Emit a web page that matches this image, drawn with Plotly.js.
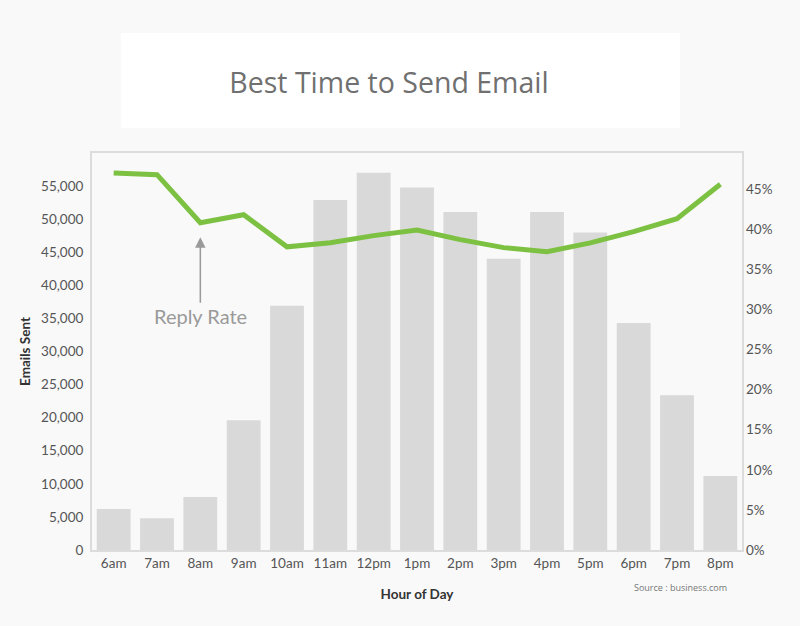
<!DOCTYPE html>
<html>
<head>
<meta charset="utf-8">
<script src="https://cdn.plot.ly/plotly-3.0.1.min.js"></script>
<style>
  html, body { margin: 0; padding: 0; background: #f9f9f9; }
  #chart { width: 800px; height: 626px; }
</style>
</head>
<body>
<div id="chart"></div>
<script>
const hours = ["6am","7am","8am","9am","10am","11am","12pm","1pm","2pm","3pm","4pm","5pm","6pm","7pm","8pm"];
const emailsSent = [6200, 4800, 8000, 19600, 36900, 52900, 57000, 54800, 51100, 44000, 51100, 48000, 34300, 23400, 11200];
const replyRate = [47.0, 46.8, 40.8, 41.8, 37.8, 38.3, 39.2, 39.9, 38.7, 37.7, 37.2, 38.3, 39.7, 41.3, 45.6];
const leftTicks = [0, 5000, 10000, 15000, 20000, 25000, 30000, 35000, 40000, 45000, 50000, 55000];
const leftTickText = ["0","5,000","10,000","15,000","20,000","25,000","30,000","35,000","40,000","45,000","50,000","55,000"];
const rightTicks = [0, 5, 10, 15, 20, 25, 30, 35, 40, 45];
const rightTickText = ["0%","5%","10%","15%","20%","25%","30%","35%","40%","45%"];

const tickFont = {family: "Lato, 'Open Sans', sans-serif", size: 13.5, color: "#555555"};

const traces = [
  {
    type: "bar",
    x: hours,
    y: emailsSent,
    marker: {color: "#d9d9d9"},
    hoverinfo: "x+y",
    showlegend: false
  },
  {
    type: "scatter",
    mode: "lines",
    x: hours,
    y: replyRate,
    yaxis: "y2",
    line: {color: "#7dc142", width: 5},
    showlegend: false
  }
];

const layout = {
  width: 800,
  height: 626,
  paper_bgcolor: "#f9f9f9",
  plot_bgcolor: "#f9f9f9",
  margin: {l: 92, r: 58, t: 153, b: 76},
  bargap: 0.22,
  showlegend: false,
  title: {
    text: "Best Time to Send Email",
    font: {family: "'Open Sans', sans-serif", size: 28.5, color: "#707070"},
    x: 0.457, xref: "paper", xanchor: "center",
    y: 0.868, yref: "container", yanchor: "middle"
  },
  xaxis: {
    showline: true, linecolor: "#dcdcdc", linewidth: 2, mirror: true,
    showgrid: false, zeroline: false, ticks: "",
    tickfont: tickFont,
    title: {text: "Hour of Day", font: {family: "Lato, sans-serif", size: 13.5, color: "#333333", weight: "bold"}, standoff: 19}
  },
  yaxis: {
    range: [0, 60000],
    tickvals: leftTicks,
    ticktext: leftTickText,
    showline: true, linecolor: "#dcdcdc", linewidth: 2, mirror: true,
    showgrid: false, zeroline: false, ticks: "",
    ticklabelstandoff: 4,
    tickfont: tickFont,
    title: {text: "Emails Sent", font: {family: "Lato, sans-serif", size: 13.5, color: "#333333", weight: "bold"}, standoff: 7}
  },
  yaxis2: {
    overlaying: "y",
    side: "right",
    range: [0, 49.5],
    tickvals: rightTicks,
    ticktext: rightTickText,
    showline: false, showgrid: false, zeroline: false, ticks: "",
    ticklabelstandoff: 3,
    tickfont: tickFont
  },
  shapes: [
    {
      type: "rect", xref: "paper", yref: "paper",
      x0: 0.0446, x1: 0.9046, y0: 1.063, y1: 1.302,
      fillcolor: "#ffffff", line: {width: 0}, layer: "below"
    }
  ],
  annotations: [
    {
      x: "8am", y: 39.0, xref: "x", yref: "y2",
      text: "Reply Rate",
      showarrow: true, arrowhead: 2, arrowsize: 1.4, arrowwidth: 1.5,
      arrowcolor: "#9a9a9a",
      ax: 0, ay: 79,
      font: {family: "Lato, sans-serif", size: 20, color: "#9a9a9a"}
    },
    {
      x: 0.905, y: -0.095, xref: "paper", yref: "paper",
      xanchor: "center", yanchor: "middle",
      text: "Source : business.com",
      showarrow: false,
      font: {family: "'Liberation Sans Narrow', 'Open Sans', sans-serif", size: 9, color: "#777777"}
    }
  ]
};

Plotly.newPlot("chart", traces, layout, {displayModeBar: false, staticPlot: true});
</script>
</body>
</html>
